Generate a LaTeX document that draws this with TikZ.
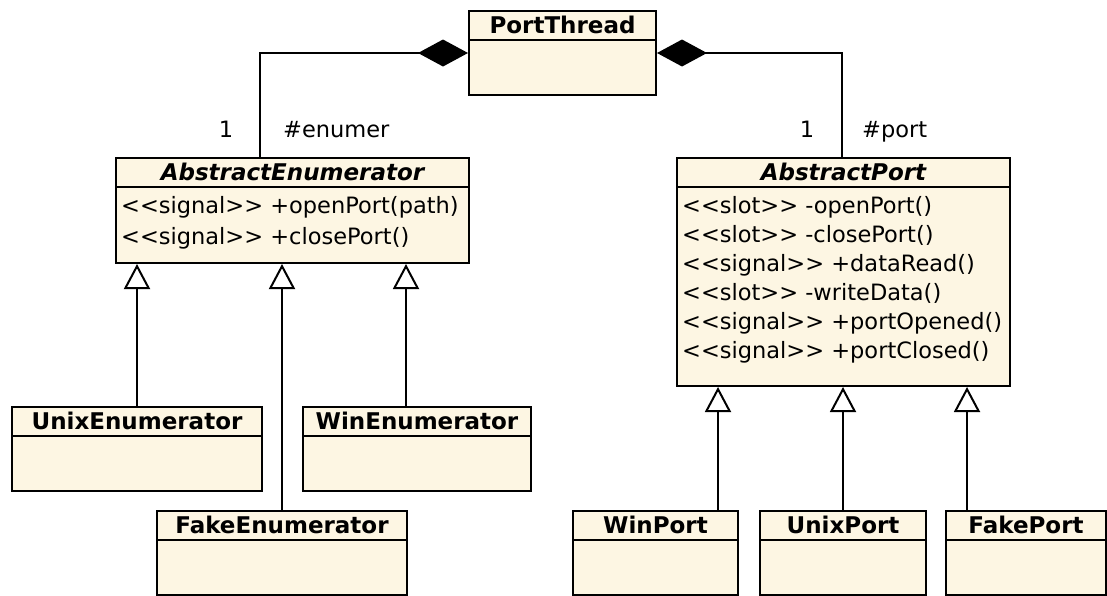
\documentclass[tikz,border=0pt]{standalone}
\usepackage{fontspec}
\setmainfont{DejaVu Sans}
\usepackage{tikz}
\usetikzlibrary{
arrows.meta,
positioning,
calc
}
\definecolor{umlfill}{HTML}{FDF6E3}

\begin{document}
\begin{tikzpicture}[x=1pt, y=-1pt,
  classbox/.style={draw, line width=2pt, fill=umlfill, inner sep=0pt, anchor=north west},
  classname/.style={font=\fontsize{23}{29}\selectfont\bfseries, minimum height=30pt, inner sep=0pt, anchor=north},
  divider/.style={line width=2pt},
  members/.style={align=left, inner sep=0pt, anchor=north west},
  role/.style={font=\fontsize{22.5}{29}\selectfont, inner sep=0pt},
  compose/.style={line width=2pt, {Diamond[length=50pt, width=27pt]}-},
  inherit/.style={line width=2pt, -{Triangle[length=25pt, width=26pt, fill=white]}}]

\useasboundingbox (0,0) rectangle (1107,595);

% Classes without members
\foreach \n/\x/\y/\w/\t in {thread/468/10/187/PortThread,
    unixenum/11/406/250/UnixEnumerator, winenum/302/406/228/WinEnumerator,
    fakeenum/156/510/250/FakeEnumerator, winport/572/510/165/WinPort,
    unixport/759/510/166/UnixPort, fakeport/945/510/160/FakePort} {
  \node[classbox, minimum width=\w pt, minimum height=84pt] (\n) at (\x,\y) {};
  \node[classname] (\n-name) at (\n.north) {\t};
  \draw[divider] (\n-name.south -| \n.west) -- (\n-name.south -| \n.east);
}

% AbstractEnumerator
\node[classbox, minimum width=353pt, minimum height=105pt] (absenum) at (115,157) {};
\node[classname, font=\fontsize{23}{29}\selectfont\bfseries\itshape] (absenum-name) at (absenum.north) {AbstractEnumerator};
\draw[divider] (absenum-name.south -| absenum.west) -- (absenum-name.south -| absenum.east);
\node[members, font=\fontsize{22.5}{31}\selectfont] (absenum-ops) at (121,196) {%
  <{}<signal>{}> +openPort(path)\\
  <{}<signal>{}> +closePort()};

% AbstractPort
\node[classbox, minimum width=333pt, minimum height=228pt] (absport) at (676,157) {};
\node[classname, font=\fontsize{23}{29}\selectfont\bfseries\itshape] (absport-name) at (absport.north) {AbstractPort};
\draw[divider] (absport-name.south -| absport.west) -- (absport-name.south -| absport.east);
\node[members, font=\fontsize{22.5}{29}\selectfont] (absport-ops) at (682,196) {%
  <{}<slot>{}> -openPort()\\
  <{}<slot>{}> -closePort()\\
  <{}<signal>{}> +dataRead()\\
  <{}<slot>{}> -writeData()\\
  <{}<signal>{}> +portOpened()\\
  <{}<signal>{}> +portClosed()};

% Compositions
\draw[compose] (thread.west) -| ([xshift=145pt]absenum.north west);
\draw[compose] (thread.east) -| ([xshift=166pt]absport.north west);
\node[role, anchor=base] (enum-mult) at (226,137) {1};
\node[role, anchor=base west] (enum-role) at (283,137) {\#enumer};
\node[role, anchor=base] (port-mult) at (807,137) {1};
\node[role, anchor=base west] (port-role) at (862,137) {\#port};

% Generalisations
\draw[inherit] (unixenum.north) -- (unixenum.north |- absenum.south);
\draw[inherit] (fakeenum.north) -- (fakeenum.north |- absenum.south);
\draw[inherit] ([xshift=104pt]winenum.north west) -- ([xshift=291pt]absenum.south west);
\draw[inherit] ([xshift=146pt]winport.north west) -- ([xshift=42pt]absport.south west);
\draw[inherit] (unixport.north) -- (unixport.north |- absport.south);
\draw[inherit] ([xshift=22pt]fakeport.north west) -- ([xshift=291pt]absport.south west);

\end{tikzpicture}
\end{document}
